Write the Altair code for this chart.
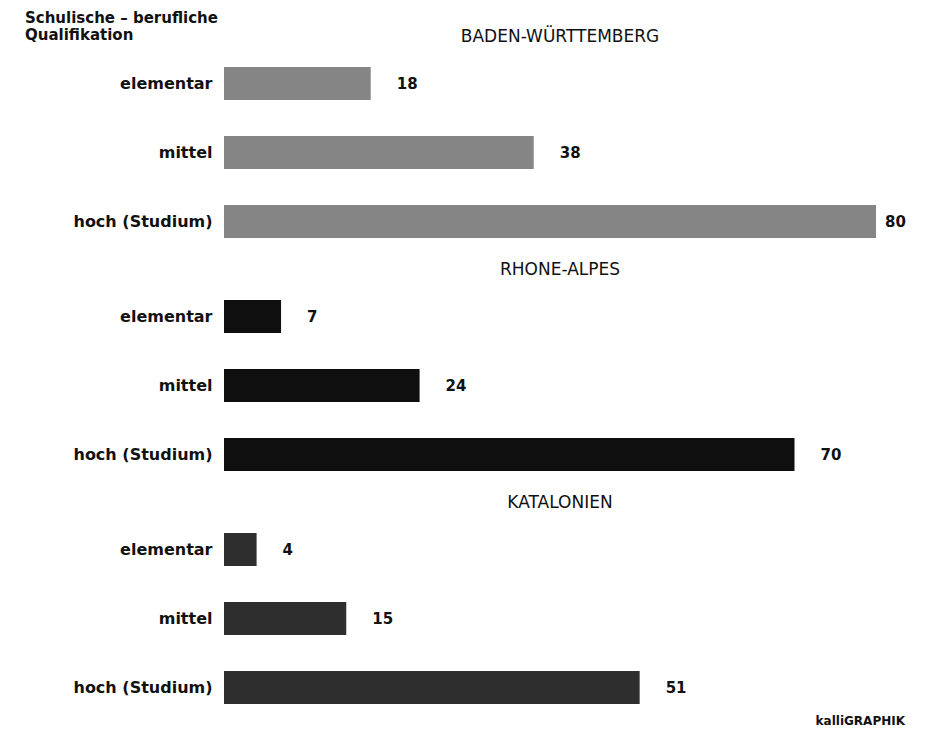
import altair as alt
import pandas as pd

# ---- data ----
regions = ["BADEN-WÜRTTEMBERG", "RHONE-ALPES", "KATALONIEN"]
levels = ["elementar", "mittel", "hoch (Studium)"]
values_bw = [18, 38, 80]
values_ra = [7, 24, 70]
values_kat = [4, 15, 51]
bar_colors = ["#858585", "#0f0f0f", "#2e2e2e"]
axis_title = ["Schulische – berufliche", "Qualifikation"]
credit = ["kalliGRAPHIK"]

FONT = "DejaVu Sans"
TXT = "#111111"


def panel(region, vals, color, first=False, last=False):
    df = pd.DataFrame({"level": levels, "value": vals})
    yaxis = alt.Axis(
        title=None, ticks=False, domain=False, labelPadding=12, labelFont=FONT,
        labelFontSize=16, labelFontWeight="bold", labelColor=TXT,
    )
    base = alt.Chart(df).encode(
        y=alt.Y("level:N", sort=levels,
                scale=alt.Scale(paddingInner=0.52, paddingOuter=0.26), axis=yaxis),
        x=alt.X("value:Q", scale=alt.Scale(domain=[0, 80], nice=False), axis=None),
    )
    bars = base.mark_bar(color=color)
    lab_a = base.transform_filter("datum.value < 75").mark_text(
        align="left", baseline="middle", dx=26, font=FONT, fontSize=15,
        fontWeight="bold", color=TXT).encode(text="value:Q")
    lab_b = base.transform_filter("datum.value >= 75").mark_text(
        align="left", baseline="middle", dx=9, font=FONT, fontSize=15,
        fontWeight="bold", color=TXT).encode(text="value:Q")

    tdf = pd.DataFrame({"t": [region]})
    title = alt.Chart(tdf).mark_text(
        align="center", baseline="middle", font=FONT, fontSize=17,
        fontWeight="normal", color=TXT).encode(
        text="t:N", x=alt.value(336), y=alt.value(-12))
    layers = [bars, lab_a, lab_b, title]
    if first:
        adf = pd.DataFrame({"t": [axis_title]})
        layers.append(
            alt.Chart(adf).mark_text(
                align="left", baseline="top", font=FONT, fontSize=15,
                fontWeight="bold", color=TXT, lineHeight=17).encode(
                text="t:N", x=alt.value(-199), y=alt.value(-38))
        )
    if last:
        cdf = pd.DataFrame({"t": credit})
        layers.append(
            alt.Chart(cdf).mark_text(align="right", baseline="middle", font=FONT,
                                     fontSize=12, fontWeight="bold", color=TXT)
            .encode(text="t:N", x=alt.value(681), y=alt.value(206))
        )
    return alt.layer(*layers).properties(width=652, height=207)


chart = alt.vconcat(
    panel(regions[0], values_bw, bar_colors[0], first=True),
    panel(regions[1], values_ra, bar_colors[1]),
    panel(regions[2], values_kat, bar_colors[2], last=True),
    spacing=5,
).properties(
    padding={"left": 17, "top": 3, "right": 5, "bottom": 0},
    background="white",
).configure_view(stroke=None)

chart.save("out.html", embed_options={"renderer": "svg", "actions": False})
